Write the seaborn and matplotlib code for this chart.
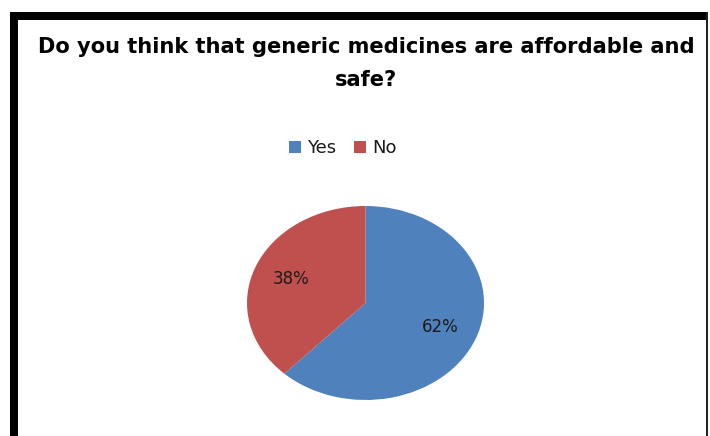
import matplotlib
matplotlib.use("Agg")
import matplotlib.pyplot as plt
import seaborn as sns
from matplotlib.patches import Rectangle, Patch

sns.set_theme(style="white")
plt.rcParams['font.family'] = ['DejaVu Sans']

categories = ["Yes", "No"]
values = [62, 38]
colors = ["#4F81BD", "#C0504D"]
title_lines = ["Do you think that generic medicines are affordable and", "safe?"]

W, H = 710, 436
fig = plt.figure(figsize=(W / 100, H / 100), dpi=100)
fig.patch.set_facecolor("white")

# frame border
fig.add_artist(Rectangle((10 / W, 0), 8 / W, 1 - 12 / H, transform=fig.transFigure,
                         color="black", lw=0))
fig.add_artist(Rectangle((10 / W, 1 - 20 / H), 698 / W, 8 / H, transform=fig.transFigure,
                         color="black", lw=0))
fig.add_artist(Rectangle((706 / W, 0), 2 / W, 1 - 12 / H, transform=fig.transFigure,
                         color="#222222", lw=0))

for i, line in enumerate(title_lines):
    fig.text(366 / W, 1 - (47 + 33 * i) / H, line, ha="center", va="center",
             fontsize=15.1, fontweight="bold", color="black")

ax = fig.add_axes([247 / W, 1 - 400 / H, 237 / W, 194 / H])
wedges, texts, autotexts = ax.pie(values, colors=colors, startangle=90, counterclock=False,
                                  autopct="%d%%", pctdistance=0.68,
                                  wedgeprops=dict(linewidth=0),
                                  textprops=dict(fontsize=12, color="#1a1a1a"))
ax.set_aspect("auto")
ax.set_xlim(-1, 1)
ax.set_ylim(-1, 1)
ax.axis("off")

handles = [Patch(facecolor=c, edgecolor="none") for c in colors]
fig.legend(handles, categories, loc="center", bbox_to_anchor=(343 / W, 1 - 148 / H),
           ncol=2, frameon=False, fontsize=13, handlelength=0.65, handleheight=0.65,
           handletextpad=0.35, columnspacing=1.0, labelcolor="#1a1a1a")

fig.savefig("out.png", dpi=100)
